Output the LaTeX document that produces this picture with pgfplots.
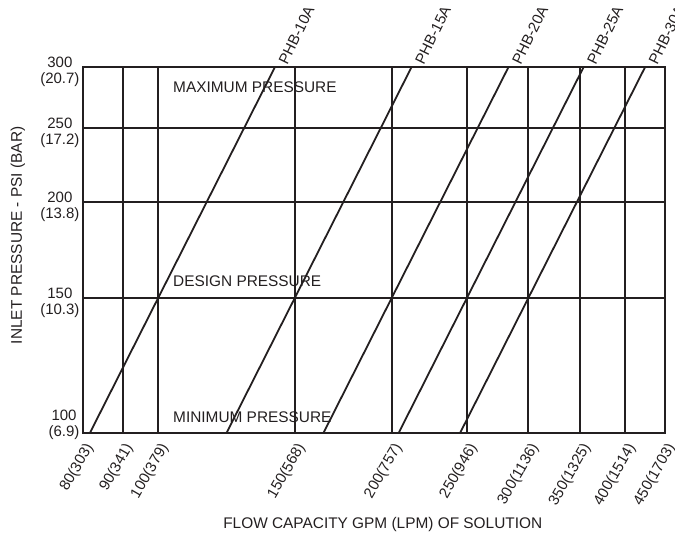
\documentclass[border=0pt]{standalone}
\usepackage{fontspec}
\setmainfont{Liberation Sans}
\usepackage{pgfplots}
\pgfplotsset{compat=1.18}
\definecolor{ink}{HTML}{231F20}
\newcommand{\tf}{\fontsize{15}{16}\selectfont}
\newcommand{\lf}{\fontsize{15.4}{18}\selectfont}
\tikzset{phb/.style={xshift=-1pt, yshift=5pt, pos=1, anchor=north west, rotate=63.8, inner sep=2pt, font=\tf, text=ink}}
\begin{document}
\begin{tikzpicture}
\begin{loglogaxis}[
 scale only axis, width=582pt, height=366pt,
 at={(0,0)}, anchor=south west,
 xmin=80, xmax=450, ymin=100, ymax=300,
 axis line style={ink, line width=1.9pt},
 xtick={80,90,100,150,200,250,300,350,400,450},
 xticklabels={80(303),90(341),100(379),150(568),200(757),250(946),300(1136),350(1325),400(1514),450(1703)},
 ytick={150,200,250,300},
 yticklabels={{150\\(10.3)},{200\\(13.8)},{250\\(17.2)},{300\\(20.7)}},
 extra y ticks={100},
 extra y tick labels={{100\\(6.9)}},
 extra y tick style={yticklabel style={yshift=13pt}},
 grid=major,
 major grid style={ink, line width=1.8pt},
 major tick length=0pt, minor tick length=0pt,
 xticklabel style={font=\tf, text=ink, xshift=7pt, yshift=-12pt, rotate=60, anchor=east, inner sep=0pt},
 yticklabel style={font=\tf, text=ink, align=center, yshift=-5pt},
 xlabel={FLOW CAPACITY GPM (LPM) OF SOLUTION},
 ylabel={INLET PRESSURE - PSI (BAR)},
 xlabel style={at={(axis description cs:0.515,-0.249)}, anchor=center, font=\lf, text=ink},
 ylabel style={at={(axis description cs:-0.112,0.540)}, anchor=center, font=\lf, text=ink},
 clip=false,
]
\addplot[ink, line width=1.8pt] coordinates {(81.65,100) (100,150) (141.42,300)}
  node[phb] {PHB-10A};
\addplot[ink, line width=1.8pt] coordinates {(122.47,100) (150,150) (212.13,300)}
  node[phb] {PHB-15A};
\addplot[ink, line width=1.8pt] coordinates {(163.30,100) (200,150) (282.84,300)}
  node[phb] {PHB-20A};
\addplot[ink, line width=1.8pt] coordinates {(204.12,100) (250,150) (353.55,300)}
  node[phb] {PHB-25A};
\addplot[ink, line width=1.8pt] coordinates {(244.95,100) (300,150) (424.26,300)}
  node[phb] {PHB-30A};
\node[anchor=west, inner sep=0pt, font=\lf, text=ink] at (rel axis cs:0.1546,0.944) {MAXIMUM PRESSURE};
\node[anchor=west, inner sep=0pt, font=\lf, text=ink] at (rel axis cs:0.1546,0.415) {DESIGN PRESSURE};
\node[anchor=west, inner sep=0pt, font=\lf, text=ink] at (rel axis cs:0.1546,0.042) {MINIMUM PRESSURE};
\end{loglogaxis}
\pgfresetboundingbox
\useasboundingbox (-83pt,-102pt) rectangle (592pt,433pt);
\end{tikzpicture}
\end{document}
